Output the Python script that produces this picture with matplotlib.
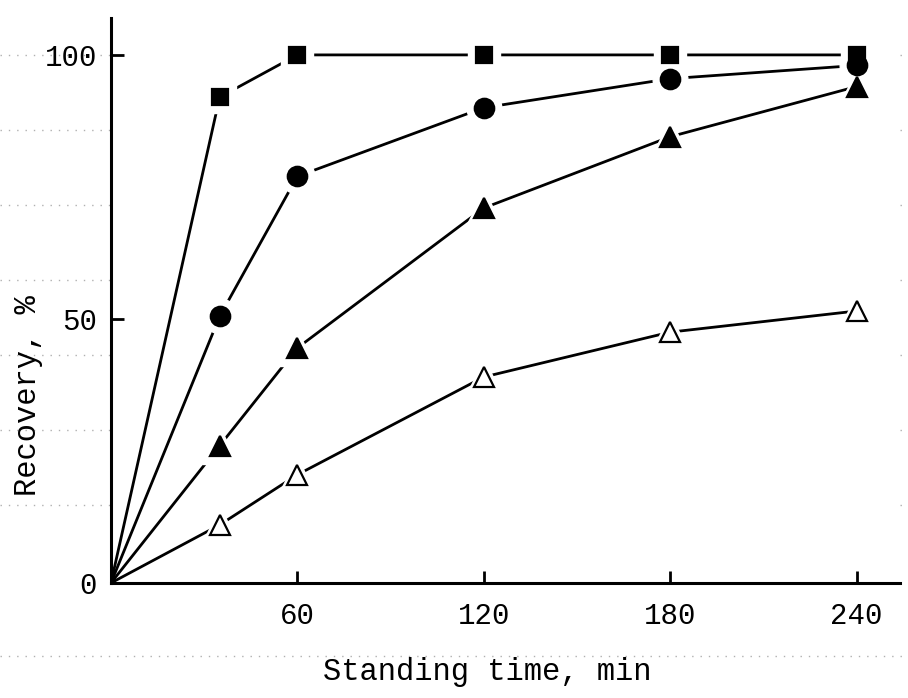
import matplotlib.pyplot as plt
from matplotlib.lines import Line2D
from matplotlib.transforms import blended_transform_factory

# data
time_min = [0, 35, 60, 120, 180, 240]
rec_square = [0, 92, 100, 100, 100, 100]
rec_circle = [0, 50.5, 77, 90, 95.5, 98]
rec_tri_filled = [0, 26, 44.5, 71, 84.5, 94]
rec_tri_open = [0, 11, 20.5, 39, 47.5, 51.5]

xticks = [60, 120, 180, 240]
yticks = [0, 50, 100]
# faint graph-paper rulings of the scan
paper_lines = [100, 85.8, 71.6, 57.4, 43.2, 29, 14.8, -13.8]

plt.rcParams['font.family'] = ['Liberation Mono', 'DejaVu Sans Mono']

fig = plt.figure(figsize=(9.08, 6.98), dpi=100)
ax = fig.add_axes([0.1222, 0.1648, 0.869, 0.8095])

trans = blended_transform_factory(fig.transFigure, ax.transData)
for y in paper_lines:
    fig.add_artist(Line2D([0, 1], [y, y], transform=trans, color='#b0b0b0',
                          lw=1.0, linestyle=(0, (1, 5)), zorder=0))

series = [
    (rec_square, 's', 12, 'black'),
    (rec_circle, 'o', 14, 'black'),
    (rec_tri_filled, '^', 15, 'black'),
    (rec_tri_open, '^', 15, 'white'),
]

for vals, mk, ms, face in series:
    ax.plot(time_min, vals, color='black', lw=2, zorder=2)
    # white halo so the lines stop short of the symbols
    ax.plot(time_min[1:], vals[1:], linestyle='none', marker=mk, ms=ms + 11,
            mfc='white', mec='white', mew=1, zorder=3)
    ax.plot(time_min[1:], vals[1:], linestyle='none', marker=mk, ms=ms,
            mfc=face, mec='black', mew=1.6, zorder=4)

ax.set_xlim(0, 254)
ax.set_ylim(0, 107)
ax.set_xticks(xticks)
ax.set_yticks(yticks)

for side in ['top', 'right']:
    ax.spines[side].set_visible(False)
for side in ['left', 'bottom']:
    ax.spines[side].set_linewidth(2.2)

ax.tick_params(axis='both', direction='in', width=2, labelsize=21)
ax.tick_params(axis='x', length=9, pad=14)
ax.tick_params(axis='y', length=9, pad=10)

ax.text(0.477, -0.158, 'Standing time, min', transform=ax.transAxes,
        ha='center', va='center', fontsize=22)
ax.text(-0.105, 0.331, 'Recovery, %', transform=ax.transAxes,
        ha='center', va='center', rotation=90, fontsize=22)

fig.savefig('out.png', dpi=100)
